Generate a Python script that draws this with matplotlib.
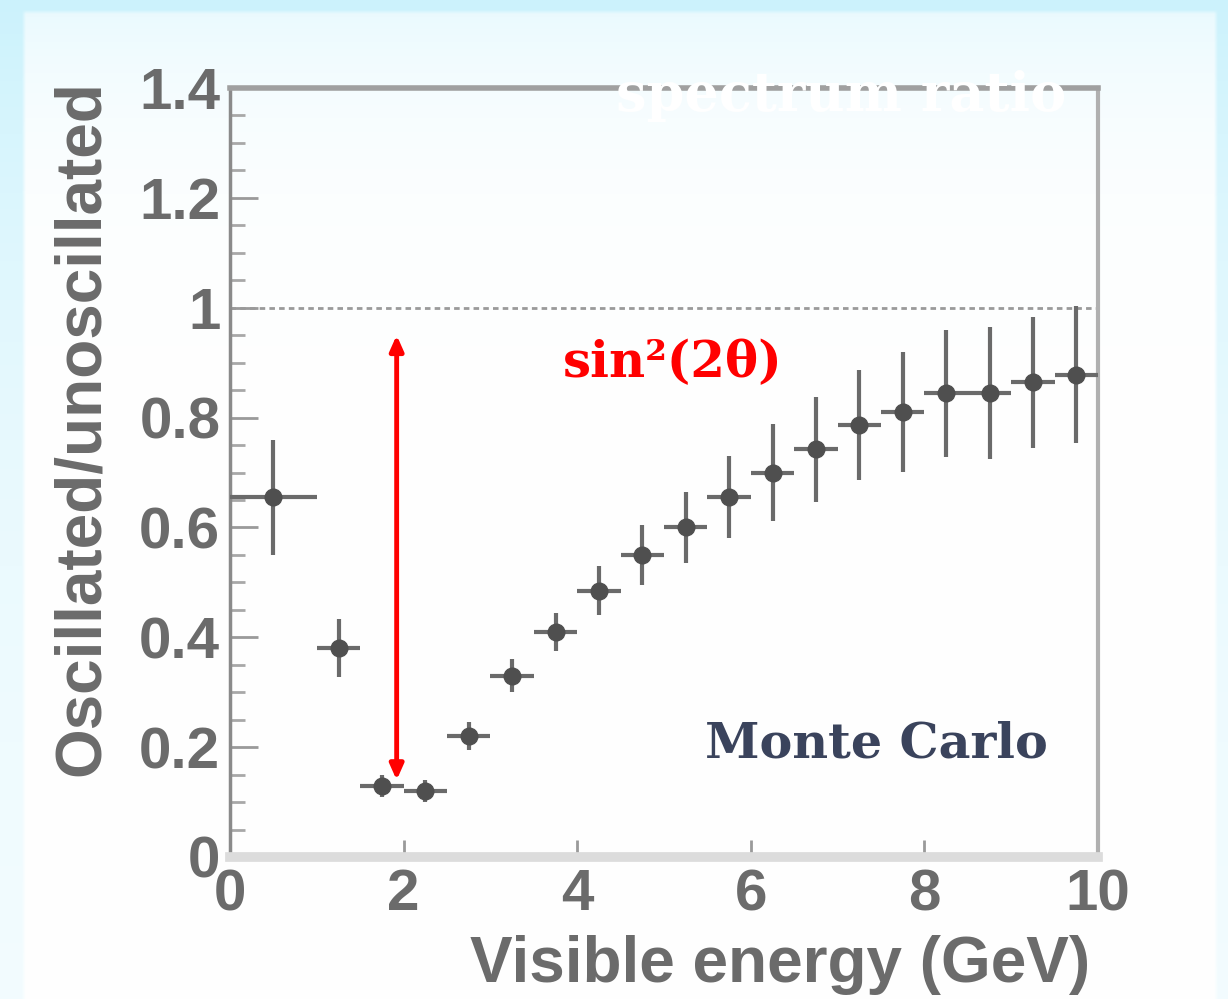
import numpy as np
import matplotlib.pyplot as plt
from matplotlib.ticker import MultipleLocator, FixedLocator

# Oscillated / unoscillated spectrum ratio (Monte Carlo), per energy bin
energy = [0.5, 1.25, 1.75, 2.25, 2.75, 3.25, 3.75, 4.25, 4.75, 5.25,
          5.75, 6.25, 6.75, 7.25, 7.75, 8.25, 8.75, 9.25, 9.75]
half_width = [0.5, 0.25, 0.25, 0.25, 0.25, 0.25, 0.25, 0.25, 0.25, 0.25,
              0.25, 0.25, 0.25, 0.25, 0.25, 0.25, 0.25, 0.25, 0.25]
ratio = [0.655, 0.38, 0.13, 0.12, 0.22, 0.33, 0.41, 0.485, 0.55, 0.60,
         0.655, 0.70, 0.742, 0.787, 0.81, 0.844, 0.844, 0.864, 0.878]
ratio_err = [0.105, 0.053, 0.02, 0.02, 0.025, 0.03, 0.035, 0.045, 0.055, 0.065,
             0.075, 0.088, 0.096, 0.10, 0.11, 0.115, 0.12, 0.12, 0.125]

xticks = [0, 2, 4, 6, 8, 10]
xtick_labels = ['0', '2', '4', '6', '8', '10']
yticks = [0, 0.2, 0.4, 0.6, 0.8, 1.0, 1.2, 1.4]
ytick_labels = ['0', '0.2', '0.4', '0.6', '0.8', '1', '1.2', '1.4']

# arrow marking the oscillation depth
depth_x = 1.92
depth_top = 0.95
depth_bottom = 0.14

W, H = 1228, 999
fig = plt.figure(figsize=(W / 100, H / 100), dpi=100)

# slide background: pale cyan frame with a white panel
bg = fig.add_axes([0, 0, 1, 1], zorder=-10)
bg.axis('off')
yy, xx = np.mgrid[0:H:4, 0:W:4]
cyan = np.array([0.80, 0.95, 0.99])
outer = 0.15 + 0.85 * np.exp(-yy / 450.0)
inner = 0.45 * np.exp(-yy / 110.0)
panel = (xx >= 22) & (xx <= 1215) & (yy >= 12)
a = np.where(panel, inner, outer)
img = 1 - a[..., None] * (1 - cyan)
bg.imshow(img, extent=[0, W, H, 0], aspect='auto', interpolation='bilinear')
bg.set_xlim(0, W)
bg.set_ylim(H, 0)

ax = fig.add_axes([230 / W, 1 - 857 / H, 868 / W, 769 / H])
ax.set_facecolor('none')

# reference line at ratio = 1
ax.axhline(1.0, color='#9a9a9a', lw=2, ls=(0, (2, 1.5)), zorder=1)

ax.errorbar(energy, ratio, xerr=half_width, yerr=ratio_err, fmt='o',
            color='#4f4f4f', ecolor='#6a6a6a', elinewidth=3, capsize=0,
            markersize=12, zorder=3)

ax.annotate('', xy=(depth_x, depth_bottom), xytext=(depth_x, depth_top),
            arrowprops=dict(arrowstyle='<|-|>,head_length=0.9,head_width=0.4',
                            color='#ff0000', lw=3.5, shrinkA=0, shrinkB=0),
            zorder=4)

ax.set_xlim(0, 10)
ax.set_ylim(0, 1.4)

tick_font = dict(family='Liberation Sans', weight='bold', size=42)
ax.xaxis.set_major_locator(FixedLocator(xticks))
ax.set_xticklabels(xtick_labels, fontdict=tick_font, color='#6b6b6b')
ax.yaxis.set_major_locator(FixedLocator(yticks))
ax.set_yticklabels(ytick_labels, fontdict=tick_font, color='#6b6b6b')
ax.yaxis.set_minor_locator(MultipleLocator(0.05))
ax.tick_params(axis='y', which='major', direction='in', length=20, width=2,
               color='#9a9a9a', pad=7)
ax.tick_params(axis='y', which='minor', direction='in', length=11, width=2,
               color='#a8a8a8')
ax.tick_params(axis='x', which='major', direction='in', length=12, width=2,
               color='#9a9a9a', pad=8)

ax.spines['left'].set_color('#8a8a8a')
ax.spines['left'].set_linewidth(2.5)
ax.spines['top'].set_color('#a0a0a0')
ax.spines['top'].set_linewidth(4)
ax.spines['right'].set_color('#b0b0b0')
ax.spines['right'].set_linewidth(3)
ax.spines['bottom'].set_color('#dcdcdc')
ax.spines['bottom'].set_linewidth(7)

label_font = dict(family='Liberation Sans', weight='bold', size=46, color='#6b6b6b')
fig.text(780 / W, 1 - 965 / H, 'Visible energy (GeV)', ha='center', va='center',
         **label_font)
fig.text(82 / W, 1 - 428 / H, 'Oscillated/unoscillated', ha='center', va='center',
         rotation=90, **label_font)

serif = dict(family='DejaVu Serif', weight='bold')
ax.text(3.84, 0.873, 'sin²(2θ)', color='#ff0000', size=35.8, ha='left',
        va='baseline', zorder=5, **serif)
ax.text(5.47, 0.182, 'Monte Carlo', color='#3a435c', size=35.5, ha='left',
        va='baseline', zorder=5, **serif)
ax.text(4.45, 1.358, 'spectrum ratio', color='white', size=39, ha='left',
        va='baseline', zorder=5, clip_on=False, **serif)

fig.savefig('out.png', dpi=100)
